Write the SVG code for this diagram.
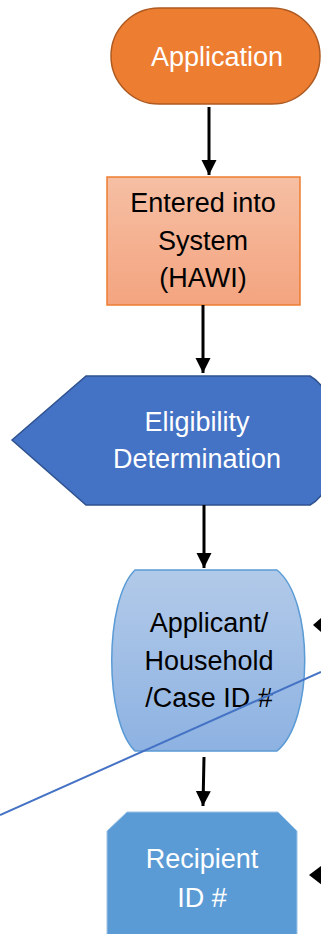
<svg xmlns="http://www.w3.org/2000/svg" width="321" height="934" viewBox="0 0 321 934">
<style>
.t{font-family:"Liberation Sans",Arial,sans-serif;font-size:27px;text-anchor:middle}
.w{fill:#ffffff}
.k{fill:#000000}
.c{stroke:#000;stroke-width:3;fill:none}
.h{fill:#000}
</style>
<defs>
<linearGradient id="gOr" x1="0" y1="0" x2="0" y2="1">
<stop offset="0" stop-color="#F6BFA4"/>
<stop offset="1" stop-color="#F4A47F"/>
</linearGradient>
<linearGradient id="gBl" x1="0" y1="0" x2="0" y2="1">
<stop offset="0" stop-color="#B2CAE9"/>
<stop offset="1" stop-color="#8DB2E2"/>
</linearGradient>
<marker id="ah" markerWidth="6" markerHeight="6" refX="5" refY="3" orient="auto" markerUnits="strokeWidth" viewBox="0 0 6 6">
<path d="M0,0.5 L5,3 L0,5.5 Z" fill="#000"/>
</marker>
</defs>
<g id="n-application">
<rect x="111" y="8" width="209" height="96" rx="48" ry="48" fill="#ED7D31" stroke="#AE5A21" stroke-width="1.5"/>
<text class="t w" x="217" y="66">Application</text>
</g>
<g id="n-entered">
<rect x="107" y="177" width="193" height="128" fill="url(#gOr)" stroke="#ED7D31" stroke-width="1.5"/>
<text class="t k" x="203" y="212">Entered into</text>
<text class="t k" x="203" y="250">System</text>
<text class="t k" x="203" y="287">(HAWI)</text>
</g>
<g id="n-eligibility">
<path d="M12,440 L86,376 L310,376 C345,395 345,486 310,505 L86,505 Z" fill="#4472C4" stroke="#2F528F" stroke-width="1.5"/>
<text class="t w" x="197" y="431">Eligibility</text>
<text class="t w" x="197" y="468">Determination</text>
</g>
<g id="n-applicant">
<path d="M135,570 L277,570 C314,600 314,721 277,751 L135,751 C104,721 104,600 135,570 Z" fill="url(#gBl)" stroke="#5B9BD5" stroke-width="1.5"/>
<text class="t k" x="209" y="632">Applicant/</text>
<text class="t k" x="209" y="670">Household</text>
<text class="t k" x="209" y="707">/Case ID #</text>
</g>
<g id="n-recipient">
<path d="M127,812 L278,812 L297,831 L297,940 L107,940 L107,831 Z" fill="#5B9BD5" stroke="#9DC3E6" stroke-width="1"/>
<text class="t w" x="202" y="868">Recipient</text>
<text class="t w" x="202" y="907">ID #</text>
</g>
<g id="connectors">
<line class="c" x1="209" y1="107" x2="209" y2="175" marker-end="url(#ah)"/>
<line class="c" x1="203" y1="305" x2="203" y2="373" marker-end="url(#ah)"/>
<line class="c" x1="204" y1="505" x2="204" y2="568" marker-end="url(#ah)"/>
<line class="c" x1="204" y1="757" x2="203" y2="806" stroke-width="2.6" marker-end="url(#ah)"/>
<line class="c" x1="330" y1="625" x2="318" y2="625"/>
<polygon class="h" points="313,625 322,617 322,633"/>
<line class="c" x1="330" y1="874" x2="314" y2="875"/>
<polygon class="h" points="309,875 321,866 322,885"/>
<line x1="0" y1="815" x2="321" y2="672" stroke="#4472C4" stroke-width="2"/>
</g>
</svg>
